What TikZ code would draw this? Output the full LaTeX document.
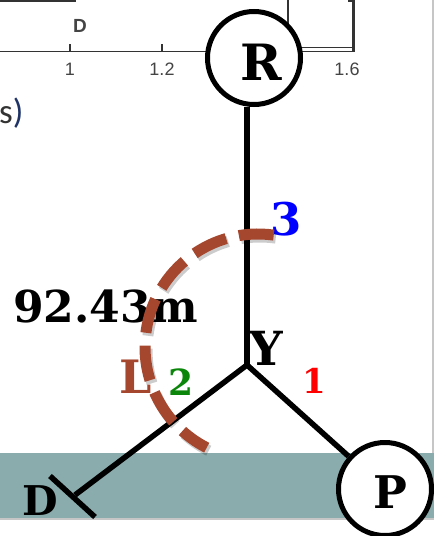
\documentclass[tikz,border=0pt]{standalone}
\usepackage{fontspec}
\usetikzlibrary{calc}
\newfontfamily\lblfont{DejaVu Serif}
\newfontfamily\chartfont{Liberation Sans}
\newfontfamily\slidefont{Carlito}
\definecolor{arcbrown}{HTML}{A5472E}
\definecolor{bandteal}{HTML}{8AACAC}
\definecolor{greenlbl}{HTML}{0B860B}
\definecolor{axisgray}{HTML}{333333}
\definecolor{ticktext}{HTML}{444444}
\definecolor{slideblue}{HTML}{1F3366}
\begin{document}
\begin{tikzpicture}[x=1pt,y=-1pt,
  wire/.style={line width=5.5pt, draw=black},
  station/.style={circle, draw=black, line width=5pt, fill=white, minimum size=93pt, inner sep=0pt},
  lbl/.style={font=\lblfont\bfseries\fontsize{#1}{#1}\selectfont, inner sep=0pt, anchor=base},
  chart/.style={draw=axisgray, line width=1.8pt},
  charttxt/.style={font=\chartfont\fontsize{18}{18}\selectfont, text=ticktext, inner sep=0pt, anchor=base},
  spanarc/.style={draw=arcbrown, line width=11pt, dash pattern=on 35pt off 13pt},
  spanshadow/.style={draw=black, opacity=0.2, line width=11pt, dash pattern=on 35pt off 13pt}
]
\useasboundingbox (0,0) rectangle (434,536);
\fill[white] (0,0) rectangle (434,536);
\fill[bandteal] (0,453) rectangle (434,518);
\draw[gray!45, line width=1.5pt] (0,518.8) -- (434,518.8);
\draw[gray!45, line width=2.5pt] (432.8,0) -- (432.8,453);

% background chart fragment
\draw[chart, line width=1.2pt] (0,1) -- (75,1) -- (75,0);
\draw[chart] (0,51.5) -- (354,51.5);
\draw[chart] (70,44) -- (70,51.5);
\draw[chart] (162,44) -- (162,51.5);
\draw[chart, line width=1.2pt] (288,0) -- (288,47.5) -- (353,47.5);
\draw[chart, line width=3pt] (353,0) -- (353,51.5);
\draw[chart] (348,1.2) -- (353,1.2);
\node[charttxt, font=\chartfont\bfseries\fontsize{19}{19}\selectfont] (axD) at (80,32) {D};
\node[charttxt] (t1) at (70,75) {1};
\node[charttxt] (t12) at (162,75) {1.2};
\node[charttxt] (t16) at (347,75) {1.6};
\node[font=\slidefont\fontsize{35}{35}\selectfont, inner sep=0pt, anchor=base west] (sfrag) at (-1,123) {\textcolor{axisgray}{s}\textcolor{slideblue}{)}};

% diagram
\coordinate (Y) at (247,365);
\coordinate (Dend) at (75,495);
\node[station] (R) at (254,58) {};
\node[station] (P) at (385,489) {};
\draw[wire] (Y) -- (Y |- R.south);
\draw[wire] (Dend) -- (Y) -- (P);
\draw[wire] ($(Dend)+(-25,-19)$) -- ($(Dend)+(20,22)$);

\node[lbl=50] (Rl) at (261.5,80) {R};
\node[lbl=45] (Pl) at (390,508) {P};
\node[lbl=47] (Yl) at (266,365) {Y};
\node[lbl=41] (Dl) at (40,515) {D};
\node[lbl=45, text=blue] (n3) at (286.5,235) {3};
\node[lbl=36, text=greenlbl] (n2) at (181.5,395) {2};
\node[lbl=34, text=red] (n1) at (314,393) {1};
\node[lbl=46, text=arcbrown] (Ll) at (135.5,393) {L};
\node[lbl=44, anchor=base west] (dist) at (13,322) {92.43m};

\draw[spanshadow] ([shift={(-82:113)}]260,350) arc[start angle=-82, end angle=-243, radius=113];
\draw[spanarc] ([shift={(-82:113)}]258,347) arc[start angle=-82, end angle=-243, radius=113];
\end{tikzpicture}
\end{document}
